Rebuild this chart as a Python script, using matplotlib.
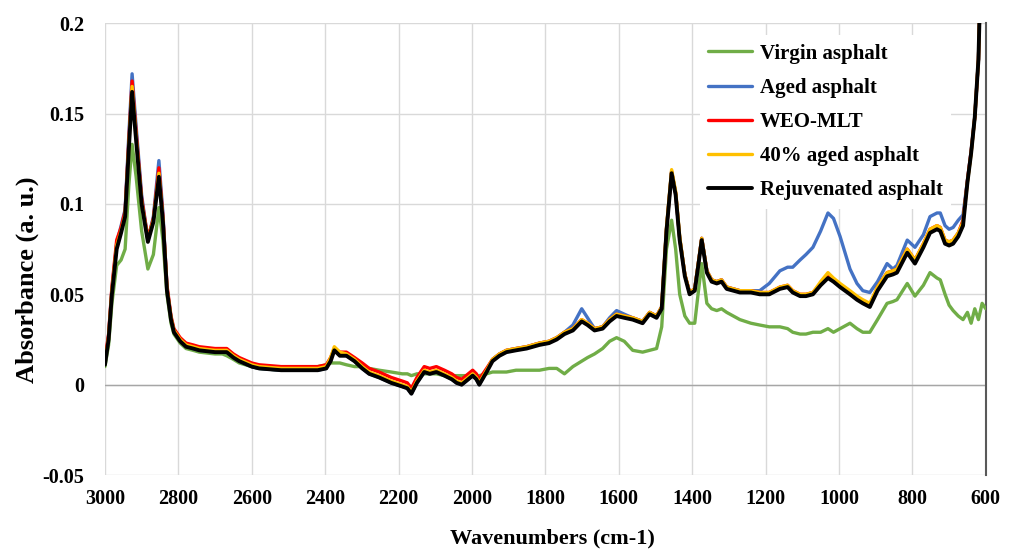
import matplotlib
matplotlib.use("Agg")
import matplotlib.pyplot as plt

wavenumbers = [3000, 2990, 2981, 2968, 2956, 2945, 2935, 2926, 2915, 2900, 2883, 2868, 2853, 2842, 2831, 2820, 2812,
               2795, 2779, 2760, 2743, 2700, 2680, 2668, 2650, 2634, 2600, 2580, 2520, 2470, 2420, 2397, 2385, 2375,
               2360, 2342, 2320, 2299, 2280, 2253, 2220, 2190, 2176, 2165, 2150, 2130, 2115, 2097, 2075, 2055, 2042,
               2028, 2010, 1998, 1988, 1980, 1960, 1944, 1925, 1906, 1880, 1851, 1816, 1790, 1769, 1748, 1725, 1701,
               1685, 1666, 1644, 1625, 1606, 1585, 1562, 1535, 1516, 1497, 1483, 1470, 1456, 1445, 1434, 1420, 1407,
               1393, 1384, 1374, 1360, 1347, 1333, 1320, 1306, 1270, 1240, 1216, 1190, 1161, 1140, 1126, 1106, 1090,
               1071, 1050, 1030, 1015, 997, 970, 951, 935, 916, 895, 869, 853, 842, 814, 793, 770, 752, 733, 724, 711,
               700, 689, 675, 662, 650, 640, 630, 620, 610, 600]

virgin = [0.010, 0.022, 0.045, 0.066, 0.069, 0.075, 0.110, 0.133, 0.115, 0.085, 0.064, 0.072, 0.098, 0.080, 0.050, 0.034, 0.028,
          0.023, 0.020, 0.019, 0.018, 0.017, 0.017, 0.016, 0.014, 0.012, 0.010, 0.009, 0.008, 0.009, 0.010, 0.011, 0.012, 0.012,
          0.012, 0.011, 0.010, 0.010, 0.009, 0.008, 0.007, 0.006, 0.006, 0.005, 0.006, 0.006, 0.006, 0.006, 0.005, 0.005, 0.005,
          0.005, 0.005, 0.006, 0.005, 0.005, 0.006, 0.007, 0.007, 0.007, 0.008, 0.008, 0.008, 0.009, 0.009, 0.006, 0.010, 0.013,
          0.015, 0.017, 0.020, 0.024, 0.026, 0.024, 0.019, 0.018, 0.019, 0.020, 0.032, 0.075, 0.091, 0.075, 0.050, 0.038, 0.034,
          0.034, 0.050, 0.067, 0.045, 0.042, 0.041, 0.042, 0.040, 0.036, 0.034, 0.033, 0.032, 0.032, 0.031, 0.029, 0.028, 0.028,
          0.029, 0.029, 0.031, 0.029, 0.031, 0.034, 0.031, 0.029, 0.029, 0.036, 0.045, 0.046, 0.047, 0.056, 0.049, 0.055, 0.062, 0.059, 0.058, 0.050,
          0.044, 0.041, 0.038, 0.036, 0.040, 0.034, 0.042, 0.036, 0.045, 0.042]

aged = [0.012, 0.027, 0.053, 0.078, 0.088, 0.097, 0.138, 0.172, 0.143, 0.105, 0.080, 0.093, 0.124, 0.095, 0.054, 0.037, 0.030,
        0.025, 0.022, 0.020, 0.019, 0.018, 0.018, 0.018, 0.015, 0.013, 0.010, 0.009, 0.008, 0.008, 0.008, 0.009, 0.014, 0.020,
        0.017, 0.016, 0.013, 0.009, 0.006, 0.004, 0.001, -0.001, -0.002, -0.005, 0.001, 0.007, 0.006, 0.007, 0.005, 0.003, 0.001,
        0.000, 0.003, 0.005, 0.003, 0.000, 0.008, 0.014, 0.017, 0.019, 0.020, 0.021, 0.023, 0.024, 0.026, 0.029, 0.033, 0.042,
        0.037, 0.031, 0.032, 0.037, 0.041, 0.039, 0.037, 0.035, 0.040, 0.038, 0.043, 0.086, 0.118, 0.106, 0.081, 0.061, 0.051,
        0.053, 0.066, 0.081, 0.063, 0.058, 0.057, 0.058, 0.054, 0.052, 0.052, 0.052, 0.056, 0.063, 0.065, 0.065, 0.069, 0.072,
        0.076, 0.085, 0.095, 0.092, 0.082, 0.064, 0.056, 0.052, 0.051, 0.057, 0.067, 0.064, 0.066, 0.080, 0.076, 0.083, 0.093, 0.095, 0.095, 0.088,
        0.086, 0.087, 0.091, 0.094, 0.113, 0.129, 0.148, 0.180, 0.260, 0.350]

weo_mlt = [0.014, 0.028, 0.054, 0.080, 0.087, 0.096, 0.135, 0.168, 0.140, 0.103, 0.081, 0.092, 0.120, 0.093, 0.055, 0.038, 0.031,
           0.026, 0.023, 0.022, 0.021, 0.020, 0.020, 0.020, 0.017, 0.015, 0.012, 0.011, 0.010, 0.010, 0.010, 0.011, 0.015, 0.020,
           0.018, 0.018, 0.015, 0.012, 0.009, 0.007, 0.004, 0.002, 0.001, -0.002, 0.004, 0.010, 0.009, 0.010, 0.008, 0.006, 0.004,
           0.003, 0.006, 0.008, 0.006, 0.003, 0.009, 0.014, 0.017, 0.019, 0.020, 0.021, 0.023, 0.024, 0.026, 0.029, 0.031, 0.036,
           0.034, 0.031, 0.032, 0.036, 0.039, 0.038, 0.037, 0.035, 0.040, 0.038, 0.043, 0.086, 0.118, 0.106, 0.081, 0.061, 0.051,
           0.053, 0.066, 0.081, 0.063, 0.058, 0.057, 0.058, 0.054, 0.052, 0.052, 0.051, 0.051, 0.054, 0.055, 0.052, 0.050, 0.050,
           0.051, 0.056, 0.061, 0.058, 0.055, 0.051, 0.048, 0.046, 0.044, 0.054, 0.062, 0.063, 0.064, 0.075, 0.069, 0.078, 0.086, 0.088, 0.087, 0.080,
           0.079, 0.080, 0.084, 0.091, 0.113, 0.129, 0.148, 0.180, 0.260, 0.350]

aged_40 = [0.012, 0.026, 0.052, 0.077, 0.085, 0.094, 0.132, 0.165, 0.137, 0.101, 0.080, 0.091, 0.117, 0.091, 0.053, 0.037, 0.030,
           0.025, 0.022, 0.021, 0.020, 0.019, 0.019, 0.019, 0.016, 0.014, 0.011, 0.010, 0.009, 0.009, 0.009, 0.010, 0.015, 0.021,
           0.018, 0.017, 0.014, 0.010, 0.007, 0.005, 0.002, 0.000, -0.001, -0.004, 0.002, 0.008, 0.007, 0.008, 0.006, 0.004, 0.002,
           0.001, 0.004, 0.006, 0.004, 0.001, 0.008, 0.014, 0.017, 0.019, 0.020, 0.021, 0.023, 0.024, 0.026, 0.029, 0.031, 0.036,
           0.034, 0.031, 0.032, 0.036, 0.039, 0.038, 0.037, 0.035, 0.040, 0.038, 0.043, 0.087, 0.119, 0.107, 0.082, 0.061, 0.051,
           0.053, 0.066, 0.081, 0.063, 0.058, 0.057, 0.058, 0.054, 0.052, 0.052, 0.051, 0.051, 0.054, 0.055, 0.052, 0.050, 0.050,
           0.051, 0.057, 0.062, 0.059, 0.056, 0.052, 0.049, 0.047, 0.045, 0.054, 0.062, 0.063, 0.064, 0.075, 0.069, 0.078, 0.086, 0.088, 0.087, 0.080,
           0.079, 0.080, 0.084, 0.090, 0.112, 0.128, 0.148, 0.180, 0.260, 0.350]

rejuvenated = [0.011, 0.025, 0.050, 0.075, 0.084, 0.093, 0.130, 0.162, 0.135, 0.100, 0.079, 0.090, 0.115, 0.090, 0.052, 0.036, 0.029,
               0.024, 0.021, 0.020, 0.019, 0.018, 0.018, 0.018, 0.015, 0.013, 0.010, 0.009, 0.008, 0.008, 0.008, 0.009, 0.013, 0.019,
               0.016, 0.016, 0.013, 0.009, 0.006, 0.004, 0.001, -0.001, -0.002, -0.005, 0.001, 0.007, 0.006, 0.007, 0.005, 0.003, 0.001,
               0.000, 0.003, 0.005, 0.003, 0.000, 0.007, 0.013, 0.016, 0.018, 0.019, 0.020, 0.022, 0.023, 0.025, 0.028, 0.030, 0.035,
               0.033, 0.030, 0.031, 0.035, 0.038, 0.037, 0.036, 0.034, 0.039, 0.037, 0.042, 0.085, 0.117, 0.105, 0.080, 0.060, 0.050,
               0.052, 0.065, 0.080, 0.062, 0.057, 0.056, 0.057, 0.053, 0.051, 0.051, 0.050, 0.050, 0.053, 0.054, 0.051, 0.049, 0.049,
               0.050, 0.055, 0.059, 0.057, 0.054, 0.050, 0.047, 0.045, 0.043, 0.052, 0.060, 0.061, 0.062, 0.073, 0.067, 0.076, 0.084, 0.086, 0.085, 0.078,
               0.077, 0.078, 0.082, 0.088, 0.112, 0.128, 0.148, 0.180, 0.260, 0.350]

series = [
    ("Virgin asphalt", virgin, "#70AD47"),
    ("Aged asphalt", aged, "#4472C4"),
    ("WEO-MLT", weo_mlt, "#FF0000"),
    ("40% aged asphalt", aged_40, "#FFC000"),
    ("Rejuvenated asphalt", rejuvenated, "#000000"),
]

x_ticks = [3000, 2800, 2600, 2400, 2200, 2000, 1800, 1600, 1400, 1200, 1000, 800, 600]
y_ticks = [-0.05, 0, 0.05, 0.1, 0.15, 0.2]
y_tick_labels = ["-0.05", "0", "0.05", "0.1", "0.15", "0.2"]

plt.rcParams['font.family'] = ['Liberation Serif', 'DejaVu Serif']
plt.rcParams['font.weight'] = 'bold'

fig = plt.figure(figsize=(10.09, 5.53), dpi=100)
ax = fig.add_axes([0.104, 0.141, 0.873, 0.817])

for i, (name, vals, col) in enumerate(series):
    ax.plot(wavenumbers, vals, color=col, lw=2.8 if col == "#000000" else 2.4, label=name, zorder=3 + i,
            solid_joinstyle='round', solid_capstyle='round')

ax.set_xlim(3000, 600)
ax.set_ylim(-0.05, 0.2)
ax.set_xticks(x_ticks)
ax.set_xticklabels([str(t) for t in x_ticks])
ax.set_yticks(y_ticks)
ax.set_yticklabels(y_tick_labels)
ax.tick_params(length=0, labelsize=14.5)
ax.tick_params(axis='x', pad=10)
ax.tick_params(axis='y', pad=15)
for lab in ax.get_xticklabels() + ax.get_yticklabels():
    lab.set_fontweight('bold')

ax.grid(True, color="#d9d9d9", lw=1.0, zorder=0)
ax.set_axisbelow(True)
ax.axhline(0, color="#a6a6a6", lw=1.0, zorder=1)
for s in ["top", "left", "bottom"]:
    ax.spines[s].set_visible(False)
ax.spines["right"].set_color("#595959")
ax.spines["right"].set_linewidth(1.5)

fig.text(552 / 1009, 1 - 538 / 553, "Wavenumbers (cm-1)", fontsize=16, fontweight='bold', ha='center', va='center')
fig.text(27 / 1009, 1 - 280 / 553, "Absorbance (a. u.)", fontsize=19, fontweight='bold', ha='center', va='center',
         rotation=90)

leg = ax.legend(loc="upper left", bbox_to_anchor=(0.675, 0.973), frameon=True, facecolor="white",
                edgecolor="none", framealpha=1, fontsize=15, handlelength=2.1, handletextpad=0.38,
                labelspacing=0.68, borderaxespad=0, borderpad=0.4)
leg.set_zorder(20)
for t in leg.get_texts():
    t.set_fontweight('bold')

fig.savefig("out.png", dpi=100)
